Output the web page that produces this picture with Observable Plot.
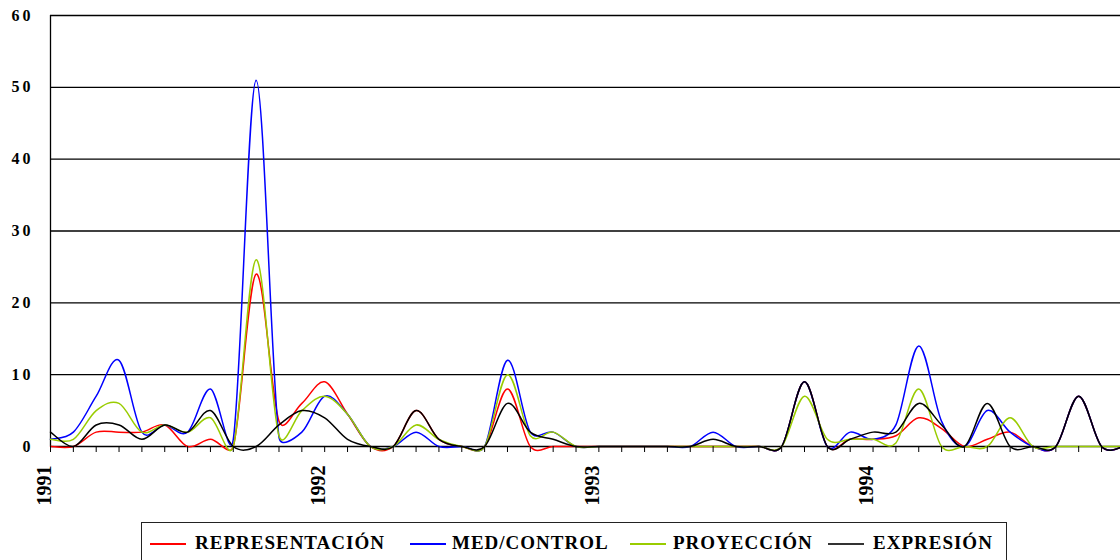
<!DOCTYPE html>
<html>
<head>
<meta charset="utf-8">
<script src="https://cdn.jsdelivr.net/npm/d3@7"></script>
<script src="https://cdn.jsdelivr.net/npm/@observablehq/plot@0.6"></script>
<style>
  html, body { margin: 0; padding: 0; background: #fff; }
  #wrap { position: relative; width: 1120px; height: 560px; overflow: hidden; font-family: "Liberation Serif", "Times New Roman", serif; }
  #chart svg { display: block; overflow: hidden; }
  #chart g[aria-label="y-axis tick label"] text { letter-spacing: 3px; }
  #legend { position: absolute; left: 141px; top: 522px; width: 866px; height: 40px; border: 1px solid #222; box-sizing: border-box; }
  .sw { position: absolute; top: 20px; width: 36px; height: 2px; }
  .lab { position: absolute; top: 9px; font-size: 19px; font-weight: bold; letter-spacing: 1px; white-space: nowrap; color: #000; }
</style>
</head>
<body>
<div id="wrap">
  <div id="chart"></div>
  <div id="legend"></div>
</div>
<script>
// Monthly data, Jan 1991 .. Dec 1994 (index 0..47)
const yearLabels = ["1991", "1992", "1993", "1994"];
const yearStart = [0, 12, 24, 36];
const yTicks = [0, 10, 20, 30, 40, 50, 60];

const representacion = [0,0,2,2,2,3,0,1,0,24,3.5,6,9,4.5,0, 0,5,1,0,0,8,0,0,0,0,0,0,0,0,0,0, 0,0,9,0,1,1,1.5,4,2.5,0,1,2,0,0,7,0,0];
const medControl     = [1,2,7,12,2,3,2,8,1,51,1.3,2,7,4.5,0, 0,2,0,0,0,12,2,2,0,0,0,0,0,0,2,0, 0,0,9,0,2,1,3,14,3.5,0,5,2,0,0,7,0,0];
const proyeccion     = [1,1,5,6,2,3,2,4,0,26,1.5,5,7,4.5,0, 0,3,1,0,0,10,1.5,2,0,0,0,0,0,0,0,0, 0,0,7,1,1,1,0.5,8,0,0,0,4,0,0,0,0,0];
const expresion      = [2,0,3,3,1,3,2,5,0,0,3,5,4,1,0, 0,5,1,0,0,6,2,1,0,0,0,0,0,0,1,0, 0,0,9,0,1,2,2,6,3,0,6,0,0,0,7,0,0];

const seriesNames = ["REPRESENTACIÓN", "MED/CONTROL", "PROYECCIÓN", "EXPRESIÓN"];
const seriesColors = ["#ff0000", "#0000ff", "#99cc00", "#000000"];

const table = d3.range(representacion.length).map(i => ({
  i,
  rep: representacion[i], med: medControl[i], pro: proyeccion[i], exp: expresion[i]
}));
const keys = ["rep", "med", "pro", "exp"];
const years = yearLabels.map((t, k) => ({x: yearStart[k], t}));

// Spreadsheet-style smoothed line: Bezier with 1/6 tangents, arms capped at half the segment length
function smoothCurve(context) {
  let pts = [];
  return {
    areaStart() {}, areaEnd() {},
    lineStart() { pts = []; },
    point(x, y) { pts.push([+x, +y]); },
    lineEnd() {
      const n = pts.length;
      if (!n) return;
      context.moveTo(pts[0][0], pts[0][1]);
      if (n === 1) return;
      const dist = (a, b) => Math.hypot(b[0] - a[0], b[1] - a[1]);
      for (let i = 0; i < n - 1; i++) {
        const p0 = pts[i - 1] || pts[i], p1 = pts[i], p2 = pts[i + 1], p3 = pts[i + 2] || pts[i + 1];
        const d12 = dist(p1, p2), d02 = dist(p0, p2), d13 = dist(p1, p3);
        let f1 = 1 / 6, f2 = 1 / 6;
        if (d02 * f1 > d12 / 2 && d02 > 0) f1 = d12 / 2 / d02;
        if (d13 * f2 > d12 / 2 && d13 > 0) f2 = d12 / 2 / d13;
        const b1 = [p1[0] + (p2[0] - p0[0]) * f1, p1[1] + (p2[1] - p0[1]) * f1];
        const b2 = [p2[0] - (p3[0] - p1[0]) * f2, p2[1] - (p3[1] - p1[1]) * f2];
        context.bezierCurveTo(b1[0], b1[1], b2[0], b2[1], p2[0], p2[1]);
      }
    }
  };
}

const font = "Liberation Serif, Times New Roman, serif";

const chart = Plot.plot({
  width: 1120,
  height: 518,
  marginLeft: 50,
  marginRight: 0,
  marginTop: 15,
  marginBottom: 72,
  style: {fontFamily: font, background: "#fff"},
  x: {type: "linear", domain: [0, 46.83]},
  y: {domain: [0, 60]},
  marks: [
    Plot.ruleY(yTicks.filter(d => d > 0), {stroke: "#000", strokeWidth: 1.3}),
    Plot.ruleX([0], {stroke: "#000", strokeWidth: 1.3}),
    Plot.ruleY([0], {stroke: "#000", strokeWidth: 1.3}),
    ...keys.map((k, j) => Plot.line(table, {
      x: "i", y: k, stroke: seriesColors[j], strokeWidth: 1.5, curve: smoothCurve
    })),
    Plot.axisX({ticks: d3.range(0, 47), tickSize: 6, tickFormat: () => "", stroke: "#000"}),
    Plot.text(years, {
      x: "x", text: "t", frameAnchor: "bottom", dy: 19, rotate: -90, textAnchor: "end",
      fontSize: 20, fontWeight: "bold", fontFamily: font, fill: "#000"
    }),
    Plot.axisY({ticks: yTicks, tickSize: 0, tickPadding: 17, fontSize: 16, fontWeight: "bold", fontFamily: font, tickFormat: d => String(d)})
  ]
});
document.getElementById("chart").appendChild(chart);

const legend = document.getElementById("legend");
const swX = [8, 268, 488, 686];
const labX = [53, 310, 531, 731];
seriesNames.forEach((n, j) => {
  const sw = document.createElement("div");
  sw.className = "sw";
  sw.style.left = swX[j] + "px";
  sw.style.background = seriesColors[j] === "#000000" ? "#333" : seriesColors[j];
  legend.appendChild(sw);
  const lab = document.createElement("div");
  lab.className = "lab";
  lab.style.left = labX[j] + "px";
  lab.textContent = n;
  legend.appendChild(lab);
});
</script>
</body>
</html>
